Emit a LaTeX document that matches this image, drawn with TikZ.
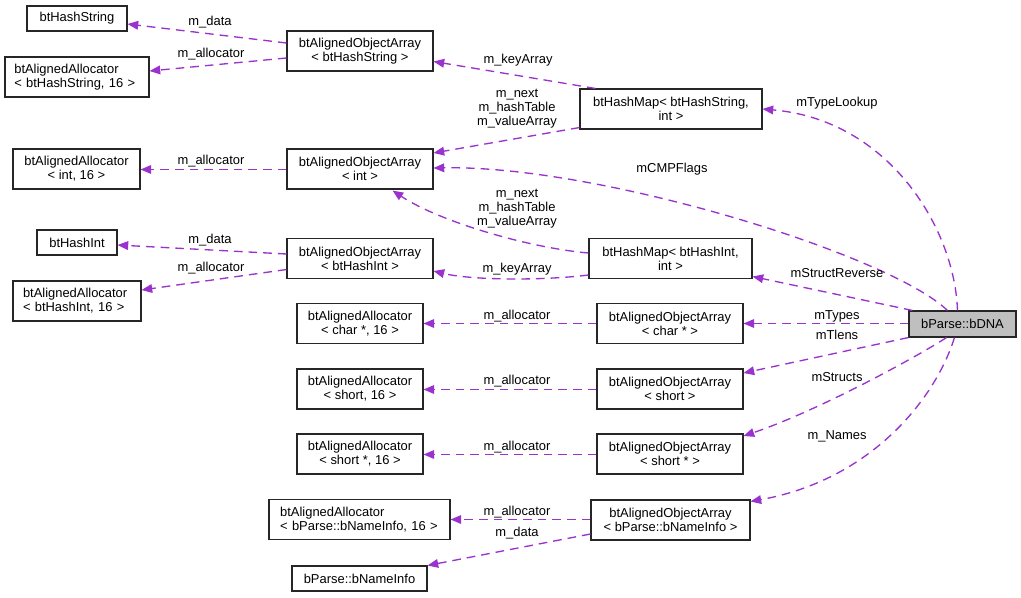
\documentclass[tikz,border=0pt]{standalone}
\usepackage{fontspec}
\setmainfont{Liberation Sans}
\usetikzlibrary{arrows.meta,calc}
\definecolor{edgec}{HTML}{9A32CD}
\definecolor{dnafill}{HTML}{BFBFBF}
\newcommand\dfont{\fontsize{9.7}{10.6}\selectfont}
\begin{document}
\begin{tikzpicture}[x=0.75pt,y=-0.75pt,
  cls/.style={draw=black!85,line width=0.8pt,fill=white,inner sep=0pt,font=\dfont,align=center},
  clsl/.style={cls,align=left},
  lbl/.style={font=\dfont,align=center,inner sep=0pt},
  use/.style={draw=edgec,line width=1pt,dash pattern=on 6.5pt off 4.5pt,-{Triangle[length=8pt,width=6.5pt,fill=edgec]}}]
\path[use as bounding box,fill=white] (0,0) rectangle (1021,597);
% nodes
\node[cls,minimum width=75pt,minimum height=18.75pt] (hs) at (77,18.5) {btHashString};
\node[clsl,minimum width=108pt,minimum height=30pt,text width=94pt] (ahs) at (77,77) {btAlignedAllocator\\{\textless} btHashString, 16 {\textgreater}};
\node[cls,minimum width=109.5pt,minimum height=30pt] (aoahs) at (360,51) {btAlignedObjectArray\\{\textless} btHashString {\textgreater}};
\node[cls,minimum width=136.5pt,minimum height=30pt] (hms) at (671,109) {btHashMap{\textless} btHashString,\\int {\textgreater}};
\node[cls,minimum width=95.25pt,minimum height=30pt] (ai) at (76.5,169) {btAlignedAllocator\\{\textless} int, 16 {\textgreater}};
\node[cls,minimum width=109.5pt,minimum height=30pt] (aoai) at (360,169) {btAlignedObjectArray\\{\textless} int {\textgreater}};
\node[cls,minimum width=60pt,minimum height=18.75pt] (hi) at (77,242.5) {btHashInt};
\node[clsl,minimum width=96pt,minimum height=30pt,text width=81pt] (ahi) at (77,301) {btAlignedAllocator\\{\textless} btHashInt, 16 {\textgreater}};
\node[cls,minimum width=109.5pt,minimum height=30pt] (aoahi) at (360,258.5) {btAlignedObjectArray\\{\textless} btHashInt {\textgreater}};
\node[cls,minimum width=122.25pt,minimum height=30pt] (hmi) at (670.5,258.5) {btHashMap{\textless} btHashInt,\\int {\textgreater}};
\node[cls,minimum width=94.5pt,minimum height=30pt] (ac) at (360,323.5) {btAlignedAllocator\\{\textless} char *, 16 {\textgreater}};
\node[cls,minimum width=109.5pt,minimum height=30pt] (aoac) at (670,323.5) {btAlignedObjectArray\\{\textless} char * {\textgreater}};
\node[cls,fill=dnafill,minimum width=80.25pt,minimum height=19.5pt] (dna) at (962.5,324) {bParse::bDNA};
\node[cls,minimum width=94.5pt,minimum height=30pt] (as) at (360,389) {btAlignedAllocator\\{\textless} short, 16 {\textgreater}};
\node[cls,minimum width=109.5pt,minimum height=30pt] (aoas) at (670,389) {btAlignedObjectArray\\{\textless} short {\textgreater}};
\node[cls,minimum width=94.5pt,minimum height=30pt] (ass) at (360,454) {btAlignedAllocator\\{\textless} short *, 16 {\textgreater}};
\node[cls,minimum width=109.5pt,minimum height=30pt] (aoass) at (670,454) {btAlignedObjectArray\\{\textless} short * {\textgreater}};
\node[clsl,minimum width=135.75pt,minimum height=30pt,text width=119pt] (ani) at (359.5,519.5) {btAlignedAllocator\\{\textless} bParse::bNameInfo, 16 {\textgreater}};
\node[cls,minimum width=119.25pt,minimum height=30pt] (aoani) at (670.5,520) {btAlignedObjectArray\\{\textless} bParse::bNameInfo {\textgreater}};
\node[cls,minimum width=101.25pt,minimum height=18.75pt] (ni) at (359.5,578.5) {bParse::bNameInfo};
% edges
\draw[use] ($(aoahs.west)+(0,-8)$) -- ($(hs.east)+(0,5.5)$);
\draw[use] ($(aoahs.west)+(0,7)$) -- ($(ahs.east)+(0,-6)$);
\draw[use] ($(hms.north west)+(16,0)$) -- ($(aoahs.east)+(0,10.5)$);
\draw[use] ($(hms.south west)+(0,-2)$) -- ($(aoai.east)+(0,-16)$);
\draw[use] ($(dna.north west)+(39,0)$) .. controls (890,255) and (600,165) .. ($(aoai.east)+(0,-1)$);
\draw[use] ($(hmi.west)+(0,-5.5)$) .. controls (530,248) and (440,222) .. ($(aoai.south east)+(-41,1)$);
\draw[use] ($(hmi.west)+(0,16.5)$) .. controls (540,281) and (470,280) .. ($(aoahi.east)+(0,12.5)$);
\draw[use] ($(aoahi.west)+(0,-4.5)$) -- ($(hi.east)+(0,2.5)$);
\draw[use] ($(aoahi.west)+(0,11)$) -- ($(ahi.east)+(0,-11)$);
\draw[use] ($(dna.north west)+(49,0)$) .. controls (955,230) and (890,120) .. (hms.east);
\draw[use] ($(dna.north west)+(4,0)$) -- ($(hmi.east)+(0,18)$);
\draw[use] ($(dna.west)+(0,-0.5)$) -- (aoac.east);
\draw[use] (dna.south west) -- ($(aoas.east)+(0,-16)$);
\draw[use] ($(dna.south west)+(38,0)$) .. controls (920,355) and (820,410) .. ($(aoass.east)+(0,-18)$);
\draw[use] ($(dna.south west)+(46,0)$) .. controls (935,400) and (870,480) .. ($(aoani.north east)+(0,2)$);
\draw[use] (aoac.west) -- (ac.east);
\draw[use] ($(aoas.west)+(0,0.5)$) -- ($(as.east)+(0,0.5)$);
\draw[use] ($(aoass.west)+(0,0.5)$) -- ($(ass.east)+(0,0.5)$);
\draw[use] ($(aoani.west)+(0,-0.5)$) -- (ani.east);
\draw[use] ($(aoani.west)+(0,14)$) -- (ni.north east);
\draw[use] ($(aoai.west)+(0,0.5)$) -- ($(ai.east)+(0,0.5)$);
% labels
\node[lbl] (l1) at (210,22) {m\_data};
\node[lbl] (l2) at (211,54) {m\_allocator};
\node[lbl] (l3) at (518,60) {m\_keyArray};
\node[lbl] (l4) at (517,109) {m\_next\\m\_hashTable\\m\_valueArray};
\node[lbl] (l5) at (837,103) {mTypeLookup};
\node[lbl] (l6) at (672,169) {mCMPFlags};
\node[lbl] (l7) at (517,209) {m\_next\\m\_hashTable\\m\_valueArray};
\node[lbl] (l8) at (517,269) {m\_keyArray};
\node[lbl] (l9) at (837,273) {mStructReverse};
\node[lbl] (l10) at (837,316) {mTypes};
\node[lbl] (l11) at (837,335) {mTlens};
\node[lbl] (l12) at (837,377) {mStructs};
\node[lbl] (l13) at (837,436) {m\_Names};
\node[lbl] (l14) at (210,240) {m\_data};
\node[lbl] (l15) at (211,268) {m\_allocator};
\node[lbl] (l16) at (211,161) {m\_allocator};
\node[lbl] (l17) at (517,316) {m\_allocator};
\node[lbl] (l18) at (517,381) {m\_allocator};
\node[lbl] (l19) at (517,447) {m\_allocator};
\node[lbl] (l20) at (517,512) {m\_allocator};
\node[lbl] (l21) at (517,533) {m\_data};
\end{tikzpicture}
\end{document}
